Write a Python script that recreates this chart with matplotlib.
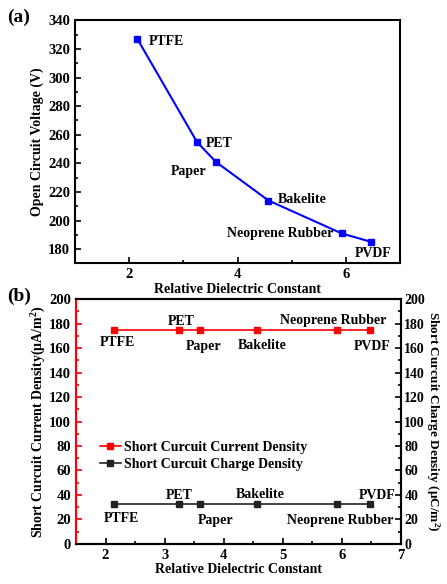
import matplotlib
matplotlib.use("Agg")
import matplotlib.pyplot as plt
from matplotlib.ticker import MultipleLocator

plt.rcParams['font.family'] = ['Liberation Serif', 'DejaVu Serif']
plt.rcParams['font.weight'] = 'bold'
plt.rcParams['mathtext.fontset'] = 'custom'
plt.rcParams['mathtext.rm'] = 'Liberation Serif:bold'
plt.rcParams['mathtext.it'] = 'Liberation Serif:bold'

# --------------------------------------------------
# Data
# --------------------------------------------------
materials = ["PTFE", "PET", "Paper", "Bakelite", "Neoprene Rubber", "PVDF"]
dielectric = [2.15, 3.25, 3.6, 4.57, 5.92, 6.47]
voltage = [327, 255, 241, 214, 191, 185]
current_density = [174.5, 174.5, 174.5, 174.5, 174.5, 174.5]
charge_density = [33, 33, 33, 33, 33, 33]

# label offsets (points) and alignment for each panel
off_a = [(8, -2, 'left'), (6.5, -1.5, 'left'), (-6.5, -7, 'right'),
         (7, 1, 'left'), (-6, 0, 'right'), (1, -8, 'center')]
off_red = [(2.5, -9), (1.5, 6), (2.5, -11.5), (3.5, -11), (-2.7, 7), (1.5, -11.5)]
off_blk = [(5, -11), (0, 6), (11.5, -12), (2, 6.5), (2, -12), (5.5, 6)]

FS = 10

fig = plt.figure(figsize=(4.47, 5.84), dpi=100)

# --------------------------------------------------
# (a) open circuit voltage
# --------------------------------------------------
ax1 = fig.add_axes([0.168, 0.549, 0.727, 0.416])
ax1.plot(dielectric, voltage, color='#0000ff', marker='s', markersize=5, linewidth=1.5)
for name, x, y, (dx, dy, ha) in zip(materials, dielectric, voltage, off_a):
    ax1.annotate(name, (x, y), xytext=(dx, dy), textcoords='offset points',
                 ha=ha, va='center', fontsize=FS, fontweight='bold')
ax1.set_xlim(1, 7)
ax1.set_ylim(170, 340)
ax1.xaxis.set_major_locator(MultipleLocator(2))
ax1.xaxis.set_minor_locator(MultipleLocator(1))
ax1.yaxis.set_major_locator(MultipleLocator(20))
ax1.yaxis.set_minor_locator(MultipleLocator(10))
ax1.tick_params(which='both', direction='in', labelsize=10.5, width=1.2)
ax1.tick_params(which='major', length=4)
ax1.tick_params(which='minor', length=2.5)
for s in ax1.spines.values():
    s.set_linewidth(1.5)
ax1.set_xlabel("Relative Dielectric Constant", fontsize=FS, fontweight='bold', labelpad=1)
ax1.set_ylabel("Open Circuit Voltage (V)", fontsize=FS, fontweight='bold', labelpad=3)
fig.text(0.015, 0.962, "(a)", fontsize=14, fontweight='bold')

# --------------------------------------------------
# (b) short circuit current / charge density
# --------------------------------------------------
ax2 = fig.add_axes([0.170, 0.0685, 0.727, 0.4195])
l1, = ax2.plot(dielectric, current_density, color='red', marker='s', markersize=4,
               linewidth=1.2, label="Short Curcuit Current Density")
ax3 = ax2.twinx()
l2, = ax3.plot(dielectric, charge_density, color='#222222', marker='s', markersize=4,
               linewidth=1.2, label="Short Curcuit Charge Density")
for name, x, y, off in zip(materials, dielectric, current_density, off_red):
    ax2.annotate(name, (x, y), xytext=off, textcoords='offset points',
                 ha='center', va='center', fontsize=FS, fontweight='bold')
for name, x, y, off in zip(materials, dielectric, charge_density, off_blk):
    ax3.annotate(name, (x, y), xytext=off, textcoords='offset points',
                 ha='center', va='center', fontsize=FS, fontweight='bold')

for ax in (ax2, ax3):
    ax.set_xlim(1.5, 7)
    ax.set_ylim(0, 200)
    ax.yaxis.set_major_locator(MultipleLocator(20))
    ax.yaxis.set_minor_locator(MultipleLocator(10))
    for s in ax.spines.values():
        s.set_linewidth(1.5)
ax2.xaxis.set_major_locator(MultipleLocator(1))
ax2.xaxis.set_minor_locator(MultipleLocator(0.5))
ax2.tick_params(which='both', direction='in', labelsize=10.5, width=1.2)
ax2.tick_params(axis='y', which='both', colors='red', labelcolor='black')
ax2.tick_params(which='major', length=4)
ax2.tick_params(which='minor', length=2.5)
ax3.tick_params(which='both', direction='in', labelsize=10, width=1.2, pad=2.5)
ax3.tick_params(which='major', length=4)
ax3.tick_params(which='minor', length=2.5)
ax3.spines['left'].set_color('red')
ax2.spines['left'].set_color('red')

ax2.set_xlabel("Relative Dielectric Constant", fontsize=FS, fontweight='bold', labelpad=1)
ax2.set_ylabel(r"Short Curcuit Current Density($\mu$A/m$^2$)", fontsize=FS,
               fontweight='bold', labelpad=1)
ax3.set_ylabel(r"Short Curcuit Charge Density ($\mu$C/m$^2$)", fontsize=9.5,
               fontweight='bold', rotation=270, labelpad=12)

ax2.legend(handles=[l1, l2], loc='upper left', bbox_to_anchor=(0.074, 0.42),
           frameon=False, fontsize=FS, handlelength=1.5, handletextpad=0.2,
           labelspacing=0.3, borderaxespad=0, borderpad=0)
fig.text(0.015, 0.485, "(b)", fontsize=14, fontweight='bold')

fig.savefig("out.png", dpi=100)
